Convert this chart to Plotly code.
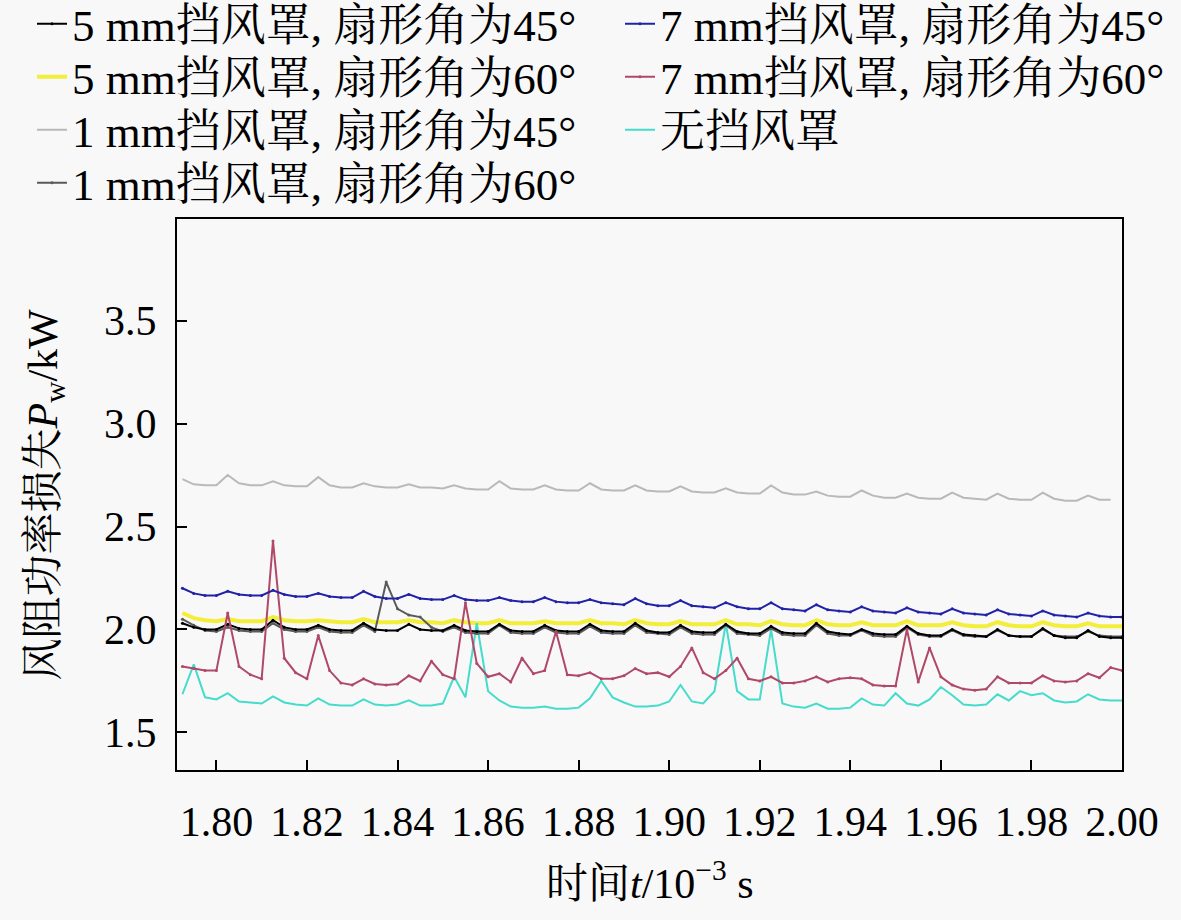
import numpy as np
import plotly.graph_objects as go

# time axis, 10^-3 s (sampled every 0.0025)
t = np.round(np.arange(1.7925, 2.00001, 0.0025), 4)

# windage power loss Pw (kW)
pw_5mm_45 = [2.03, 2.01, 2.00, 2.00,
             2.025, 2.005, 2.00, 2.00, 2.045, 2.01, 2.00, 2.00, 2.02, 2.00, 1.995, 1.995,
             2.03, 2.00, 1.995, 1.995, 2.025, 2.00, 1.995, 1.995, 2.02, 1.995, 1.99, 1.99,
             2.025, 1.995, 1.99, 1.99, 2.02, 1.995, 1.99, 1.99, 2.025, 1.995, 1.99, 1.99,
             2.03, 1.995, 1.985, 1.985, 2.02, 1.99, 1.985, 1.985, 2.025, 1.99, 1.98, 1.98,
             2.015, 1.985, 1.98, 1.98, 2.03, 1.99, 1.98, 1.975, 2.00, 1.98, 1.975, 1.975,
             2.015, 1.98, 1.97, 1.97, 2.00, 1.975, 1.97, 1.965, 2.00, 1.97, 1.965, 1.965,
             2.005, 1.97, 1.96, 1.96, 1.995, 1.965, 1.96, 1.96]
pw_5mm_60 = [2.08, 2.055, 2.045, 2.04,
             2.05, 2.04, 2.04, 2.04, 2.06, 2.045, 2.04, 2.04, 2.045, 2.04, 2.035, 2.035,
             2.05, 2.035, 2.035, 2.035, 2.045, 2.035, 2.035, 2.03, 2.045, 2.035, 2.03, 2.03,
             2.045, 2.03, 2.03, 2.03, 2.04, 2.03, 2.03, 2.03, 2.045, 2.03, 2.03, 2.025,
             2.045, 2.03, 2.025, 2.025, 2.04, 2.025, 2.025, 2.025, 2.045, 2.025, 2.025, 2.02,
             2.04, 2.025, 2.02, 2.02, 2.045, 2.025, 2.02, 2.02, 2.035, 2.02, 2.02, 2.02,
             2.04, 2.02, 2.02, 2.02, 2.035, 2.02, 2.015, 2.015, 2.035, 2.02, 2.015, 2.015,
             2.035, 2.02, 2.015, 2.015, 2.03, 2.015, 2.015, 2.015]
pw_1mm_45 = [2.73, 2.705, 2.70, 2.70,
             2.75, 2.71, 2.70, 2.70, 2.72, 2.70, 2.695, 2.695, 2.74, 2.70, 2.69, 2.69,
             2.71, 2.695, 2.69, 2.69, 2.705, 2.69, 2.69, 2.685, 2.70, 2.685, 2.68, 2.68,
             2.72, 2.685, 2.68, 2.68, 2.70, 2.68, 2.675, 2.675, 2.71, 2.68, 2.675, 2.675,
             2.70, 2.675, 2.67, 2.67, 2.695, 2.67, 2.665, 2.665, 2.685, 2.665, 2.66, 2.66,
             2.70, 2.665, 2.655, 2.655, 2.67, 2.65, 2.645, 2.645, 2.675, 2.65, 2.64, 2.64,
             2.66, 2.64, 2.635, 2.635, 2.665, 2.64, 2.635, 2.63, 2.66, 2.635, 2.63, 2.63,
             2.665, 2.635, 2.625, 2.625, 2.65, 2.63, 2.63, None]
pw_1mm_60 = [2.05, 2.02, 1.995, 1.99,
             2.01, 1.995, 1.99, 1.99, 2.03, 2.00, 1.99, 1.99, 2.01, 1.99, 1.985, 1.985,
             2.02, 1.99, 2.23, 2.10, 2.07, 2.06, 2.01, 1.99, 2.01, 1.985, 1.98, 1.98,
             2.02, 1.985, 1.98, 1.98, 2.01, 1.985, 1.98, 1.98, 2.015, 1.985, 1.98, 1.98,
             2.02, 1.985, 1.98, 1.975, 2.01, 1.98, 1.975, 1.975, 2.02, 1.98, 1.975, 1.97,
             2.005, 1.975, 1.97, 1.97, 2.02, 1.98, 1.97, 1.97, 1.995, 1.97, 1.965, 1.965,
             2.01, 1.975, 1.965, 1.965, 1.995, 1.97, 1.965, 1.965, 1.995, 1.97, 1.965, 1.965,
             2.00, 1.97, 1.965, 1.965, 1.99, 1.97, 1.965, 1.965]
pw_7mm_45 = [2.20, 2.175, 2.165, 2.165,
             2.185, 2.17, 2.165, 2.165, 2.19, 2.17, 2.16, 2.16, 2.175, 2.16, 2.155, 2.155,
             2.185, 2.16, 2.15, 2.15, 2.17, 2.15, 2.145, 2.145, 2.165, 2.145, 2.14, 2.14,
             2.155, 2.14, 2.135, 2.135, 2.155, 2.135, 2.13, 2.13, 2.145, 2.13, 2.125, 2.12,
             2.15, 2.125, 2.115, 2.115, 2.14, 2.115, 2.11, 2.105, 2.13, 2.11, 2.10, 2.10,
             2.13, 2.10, 2.095, 2.09, 2.12, 2.095, 2.09, 2.085, 2.11, 2.09, 2.085, 2.08,
             2.105, 2.085, 2.08, 2.075, 2.10, 2.08, 2.075, 2.07, 2.095, 2.075, 2.07, 2.065,
             2.09, 2.07, 2.065, 2.06, 2.08, 2.065, 2.06, 2.06]
pw_7mm_60 = [1.82, 1.81, 1.80, 1.80,
             2.08, 1.82, 1.78, 1.76, 2.43, 1.86, 1.79, 1.76, 1.97, 1.80, 1.74, 1.73,
             1.76, 1.735, 1.73, 1.735, 1.775, 1.75, 1.845, 1.78, 1.76, 2.13, 1.835, 1.77,
             1.785, 1.745, 1.86, 1.785, 1.80, 1.99, 1.78, 1.775, 1.79, 1.76, 1.76, 1.775,
             1.81, 1.785, 1.79, 1.77, 1.82, 1.91, 1.79, 1.76, 1.80, 1.86, 1.76, 1.75,
             1.77, 1.74, 1.74, 1.75, 1.77, 1.745, 1.76, 1.765, 1.76, 1.73, 1.725, 1.725,
             2.00, 1.745, 1.91, 1.77, 1.73, 1.71, 1.705, 1.71, 1.77, 1.74, 1.74, 1.74,
             1.775, 1.75, 1.745, 1.75, 1.785, 1.765, 1.815, 1.80]
pw_none = [1.685, 1.83, 1.67, 1.66,
           1.69, 1.65, 1.645, 1.64, 1.675, 1.645, 1.635, 1.63, 1.665, 1.635, 1.63, 1.63,
           1.66, 1.635, 1.63, 1.635, 1.655, 1.63, 1.63, 1.64, 1.77, 1.67, 2.03, 1.70,
           1.655, 1.625, 1.62, 1.62, 1.625, 1.615, 1.615, 1.62, 1.665, 1.75, 1.67, 1.645,
           1.625, 1.625, 1.63, 1.65, 1.73, 1.65, 1.64, 1.70, 2.03, 1.70, 1.66, 1.66,
           2.00, 1.64, 1.625, 1.62, 1.64, 1.615, 1.615, 1.62, 1.665, 1.635, 1.63, 1.69,
           1.64, 1.63, 1.66, 1.72, 1.68, 1.635, 1.63, 1.635, 1.685, 1.655, 1.70, 1.68,
           1.69, 1.655, 1.645, 1.65, 1.685, 1.66, 1.655, 1.655]

x_ticks = [1.80, 1.82, 1.84, 1.86, 1.88, 1.90, 1.92, 1.94, 1.96, 1.98, 2.00]
y_ticks = [1.5, 2.0, 2.5, 3.0, 3.5]

FONT = "Liberation Serif, Noto Serif CJK SC, Noto Sans CJK SC, serif"
BG = "#f8f8f8"
W, H = 1181, 920

# (name, data, colour, width, markers, legend slot) - drawn in this order
# legend slot = (column, row)
series = [
    ("5 mm挡风罩, 扇形角为60°", pw_5mm_60, "#f2ee3a", 4, False, (0, 1)),
    ("1 mm挡风罩, 扇形角为45°", pw_1mm_45, "#b9b9b9", 2, False, (0, 2)),
    ("无挡风罩", pw_none, "#45dccb", 2, False, (1, 2)),
    ("1 mm挡风罩, 扇形角为60°", pw_1mm_60, "#5a5a5a", 2, True, (0, 3)),
    ("5 mm挡风罩, 扇形角为45°", pw_5mm_45, "#000000", 2, True, (0, 0)),
    ("7 mm挡风罩, 扇形角为60°", pw_7mm_60, "#b04868", 2, True, (1, 1)),
    ("7 mm挡风罩, 扇形角为45°", pw_7mm_45, "#2222a8", 2, True, (1, 0)),
]
col_x = [32, 620]           # legend left edge, px
row_y = [24, 77, 130, 183]  # legend row centre, px

fig = go.Figure()
legends = {}
for i, (name, vals, col, w, mk, (c, r)) in enumerate(series):
    key = "legend" if i == 0 else "legend%d" % (i + 1)
    fig.add_trace(go.Scatter(
        x=t, y=vals, name=name, mode="lines+markers" if mk else "lines",
        line=dict(color=col, width=w), marker=dict(size=3, color=col),
        legend=key, showlegend=True))
    legends[key] = dict(xref="container", yref="container",
                        x=col_x[c] / W, y=1 - row_y[r] / H,
                        xanchor="left", yanchor="middle",
                        bgcolor="rgba(0,0,0,0)", borderwidth=0,
                        font=dict(family=FONT, size=45, color="black"))

axis_common = dict(showline=True, linecolor="black", linewidth=2, mirror=True,
                   ticks="inside", ticklen=10, tickwidth=2, tickcolor="black",
                   showgrid=False, zeroline=False, tickangle=0,
                   tickfont=dict(family=FONT, size=42, color="black"))

fig.update_xaxes(range=[1.7913, 2.0], tickvals=x_ticks, tickformat=".2f",
                 ticklabelstandoff=14, **axis_common)
fig.update_yaxes(range=[1.317, 3.994], tickvals=y_ticks, tickformat=".1f",
                 ticklabelstandoff=10, **axis_common)

# plot area spans x 177..1122 px, y 219..770 px
fig.add_annotation(text="时间<i>t</i>/10<sup>−3</sup> s", xref="paper", yref="paper",
                   x=0.5, y=(770 - 880) / 551, xanchor="center", yanchor="middle",
                   showarrow=False, font=dict(family=FONT, size=42, color="black"))
fig.add_annotation(text="风阻功率损失<i>P</i><sub>w</sub>/kW", xref="paper", yref="paper",
                   x=(45 - 177) / 945, y=0.5, xanchor="center", yanchor="middle",
                   textangle=-90, showarrow=False,
                   font=dict(family=FONT, size=42, color="black"))

fig.update_layout(
    width=W, height=H, showlegend=True,
    margin=dict(l=177, r=59, t=219, b=150, autoexpand=False),
    paper_bgcolor=BG, plot_bgcolor=BG,
    **legends,
)

fig.write_html("out.html", config={"displayModeBar": False},
               post_script="document.body.style.margin='0px';")
